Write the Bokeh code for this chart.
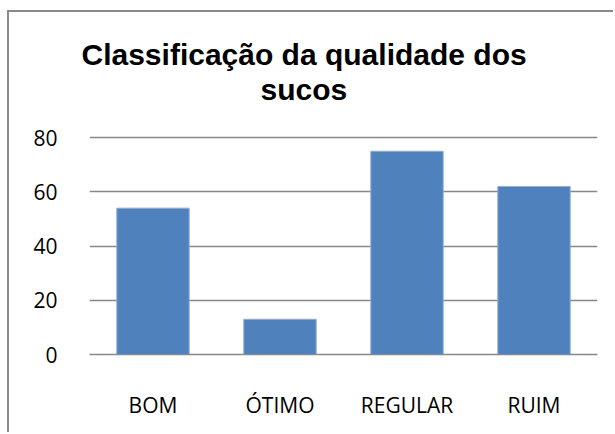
from bokeh.plotting import figure
from bokeh.models import ColumnDataSource, FixedTicker, Title
from bokeh.embed import file_html
from bokeh.resources import INLINE

categories = ["BOM", "ÓTIMO", "REGULAR", "RUIM"]
values = [54, 13, 75, 62]
y_ticks = [0, 20, 40, 60, 80]
title_lines = ["Classificação da qualidade dos", "sucos"]

src = ColumnDataSource(dict(cat=categories, val=values))

p = figure(width=606, height=422, x_range=categories, y_range=(0, 80.8),
           output_backend="svg", toolbar_location=None,
           min_border_left=80, min_border_right=18,
           min_border_top=123, min_border_bottom=80)
p.outline_line_color = None
p.background_fill_color = "white"
p.styles = {"border-left": "2px solid #8A8A8A", "border-top": "2px solid #8A8A8A",
            "margin-left": "7px", "margin-top": "10px"}

p.vbar(x="cat", top="val", width=0.57, source=src,
       fill_color="#4F81BD", line_color="#8DAEDB", line_width=1)

p.xgrid.grid_line_color = None
p.ygrid.grid_line_color = "#888888"
p.ygrid.grid_line_width = 1.6
p.ygrid.ticker = FixedTicker(ticks=y_ticks)

p.yaxis.ticker = FixedTicker(ticks=y_ticks)
p.yaxis.axis_line_color = None
p.yaxis.major_tick_line_color = None
p.yaxis.minor_tick_line_color = None
p.yaxis.major_label_standoff = 26
p.yaxis.major_label_text_font = "Open Sans"
p.yaxis.major_label_text_font_size = "21px"
p.yaxis.major_label_text_color = "black"

p.xaxis.axis_line_color = "#888888"
p.xaxis.axis_line_width = 1.6
p.xaxis.major_tick_line_color = None
p.xaxis.minor_tick_line_color = None
p.xaxis.major_label_standoff = 30
p.xaxis.major_label_text_font = "Open Sans"
p.xaxis.major_label_text_font_size = "21px"
p.xaxis.major_label_text_color = "black"

p.add_layout(Title(text=" ", text_font_size="25px", standoff=0), "above")
p.add_layout(Title(text=title_lines[1], align="left", offset=171,
                   text_font="Liberation Sans", text_font_style="bold",
                   text_font_size="30px", text_color="black", standoff=0), "above")
p.add_layout(Title(text=title_lines[0], align="left", offset=-8,
                   text_font="Liberation Sans", text_font_style="bold",
                   text_font_size="30px", text_color="black", standoff=0), "above")

open("out.html", "w").write(file_html(p, INLINE))
